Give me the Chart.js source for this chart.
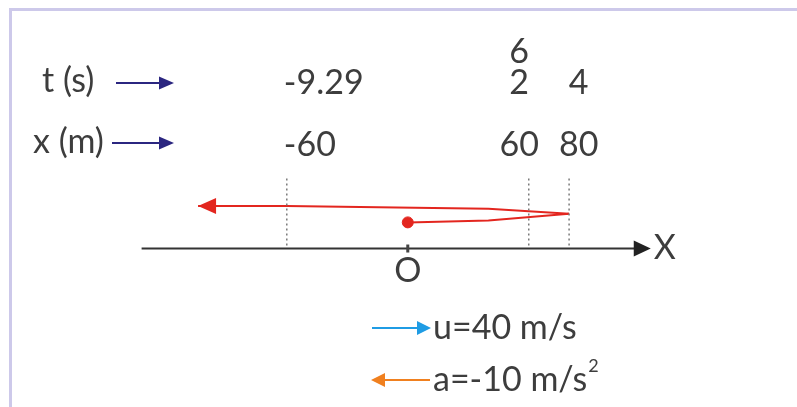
<!DOCTYPE html>
<html>
<head>
<meta charset="utf-8">
<script src="https://cdn.jsdelivr.net/npm/chart.js@4.4.0/dist/chart.umd.min.js"></script>
<style>
  html, body { margin:0; padding:0; background:#fff; overflow:hidden; }
  #wrap { position:relative; width:797px; height:407px; }
  #frame { position:absolute; left:9px; top:8px; width:900px; height:500px;
           border-left:3px solid #cdc9ea; border-top:3px solid #cdc9ea; }
  canvas { position:absolute; left:0; top:0; }
</style>
</head>
<body>
<div id="wrap">
  <div id="frame"></div>
  <canvas id="chart" width="797" height="407"></canvas>
</div>
<script>
// positions marked on the x axis (m) and the times (s) they are reached
const markX = [-60, 60, 80];
const markXLabels = ['-60', '60', '80'];
const markTLabels = [['-9.29'], ['6', '2'], ['4']];

// trajectory: out from O to the turning point, then back to the left
const pathOut  = [{x:0, y:2.7}, {x:40, y:2.9}, {x:80, y:3.6}];
const pathBack = [{x:80, y:3.6}, {x:40, y:4.1}, {x:-60, y:4.4}, {x:-104, y:4.4}];
const startPoint = [{x:0, y:2.7}];

// x axis extent (m) and guide height
const axisExtent = [-132, 120.5];
const guideTop = 7.5;

// vector legend
const vectorLabels = ['u=40 m/s', 'a=-10 m/s'];
const vectorSup = ['', '2'];
const vectorDir = [1, -1];

(function(){
  const RED = '#e3261f', INK = '#3d3d3d', NAVY = '#2b2680';
  const vectorColors = ['#1f9ce4', '#f0801f'];
  const FONT = '34px Lato, "Liberation Sans", sans-serif';

  function arrowHead(ctx, x, y, dir, len, half, color){
    ctx.save();
    ctx.fillStyle = color;
    ctx.beginPath();
    ctx.moveTo(x, y);
    ctx.lineTo(x - dir*len, y - half);
    ctx.lineTo(x - dir*len, y + half);
    ctx.closePath();
    ctx.fill();
    ctx.restore();
  }

  const guides = markX.map(v => ({
    data: [{x:v, y:0.3}, {x:v, y:guideTop}],
    showLine: true, borderColor: '#7a7a7a', borderWidth: 1.5,
    borderDash: [2, 3], pointRadius: 0
  }));

  const datasets = [
    { data: [{x:axisExtent[0], y:0}, {x:axisExtent[1] - 8, y:0}], showLine:true,
      borderColor:'#333', borderWidth:2, pointRadius:0 },
    ...guides,
    { data: pathOut, showLine:true, borderColor:RED, borderWidth:2, pointRadius:0 },
    { data: pathBack, showLine:true, borderColor:RED, borderWidth:2, pointRadius:0 },
    { data: startPoint, pointRadius:5.5, backgroundColor:RED, borderColor:RED }
  ];

  // spread column label centres apart so neighbouring labels keep a gap
  function columnCentres(ctx, xs){
    const cols = markX.map((v, i) => ({
      c: xs.getPixelForValue(v),
      w: Math.max(...[markXLabels[i], ...markTLabels[i]].map(s => ctx.measureText(s).width))
    }));
    const gap = 20;
    for (let i = 1; i < cols.length; i++){
      const a = cols[i-1], b = cols[i];
      const need = (a.w + b.w) / 2 + gap - (b.c - a.c);
      if (need > 0){ a.c -= need / 2; b.c += need / 2; }
    }
    return cols.map(o => o.c);
  }

  const annotate = {
    id: 'annotate',
    afterDatasetsDraw(chart){
      const ctx = chart.ctx;
      const xs = chart.scales.x, ys = chart.scales.y;
      const y0 = ys.getPixelForValue(0);
      ctx.save();
      ctx.font = FONT;
      ctx.fillStyle = INK;
      ctx.textBaseline = 'middle';

      // axis arrow + labels
      const tip = xs.getPixelForValue(axisExtent[1]);
      arrowHead(ctx, tip, y0, 1, 17, 8, '#222');
      ctx.textAlign = 'left';
      ctx.fillText('X', tip + 3, y0);
      ctx.fillStyle = '#444';
      ctx.fillRect(xs.getPixelForValue(0) - 1.5, y0 - 4, 3, 8);
      ctx.fillStyle = INK;
      ctx.textAlign = 'center';
      ctx.fillText('O', xs.getPixelForValue(0), y0 + 23);

      // path arrow head at the end of the return leg
      const last = pathBack[pathBack.length - 1];
      arrowHead(ctx, xs.getPixelForValue(last.x), ys.getPixelForValue(last.y), -1, 18, 8, RED);

      // row headers
      ctx.textAlign = 'left';
      ctx.fillText('t (s)', 42, 81);
      ctx.fillText('x (m)', 33, 142);
      ctx.strokeStyle = NAVY; ctx.lineWidth = 2;
      ctx.beginPath(); ctx.moveTo(116, 83); ctx.lineTo(162, 83); ctx.stroke();
      ctx.beginPath(); ctx.moveTo(112, 143); ctx.lineTo(162, 143); ctx.stroke();
      arrowHead(ctx, 174, 83, 1, 15, 6.5, NAVY);
      arrowHead(ctx, 174, 143, 1, 15, 6.5, NAVY);

      // column labels
      const centres = columnCentres(ctx, xs);
      markX.forEach((v, i) => {
        const px = centres[i];
        const neg = markXLabels[i].startsWith('-');
        ctx.textAlign = neg ? 'left' : 'center';
        const tx = neg ? px - 3 : px;
        ctx.fillText(markXLabels[i], tx, 145);
        const tl = markTLabels[i];
        tl.forEach((s, k) => {
          ctx.fillText(s, tx, 83 - (tl.length - 1 - k) * 31);
        });
      });

      // vector legend
      vectorLabels.forEach((lab, i) => {
        const y = 328 + i * 52;
        const c = vectorColors[i];
        ctx.strokeStyle = c; ctx.lineWidth = 2;
        ctx.beginPath();
        if (vectorDir[i] > 0){ ctx.moveTo(372, y); ctx.lineTo(420, y); }
        else { ctx.moveTo(384, y); ctx.lineTo(430, y); }
        ctx.stroke();
        if (vectorDir[i] > 0) arrowHead(ctx, 431, y, 1, 14, 7, c);
        else arrowHead(ctx, 371, y, -1, 14, 7, c);
        ctx.fillStyle = INK;
        ctx.textAlign = 'left';
        ctx.fillText(lab, 433, y);
        if (vectorSup[i]){
          const w = ctx.measureText(lab).width;
          ctx.font = '18px Lato, "Liberation Sans", sans-serif';
          ctx.fillText(vectorSup[i], 433 + w + 1, y - 14);
          ctx.font = FONT;
        }
      });
      ctx.restore();
    }
  };

  new Chart(document.getElementById('chart').getContext('2d'), {
    type: 'scatter',
    data: { datasets },
    options: {
      responsive: false,
      animation: false,
      layout: { padding: 0 },
      plugins: { legend: { display:false }, tooltip: { enabled:false } },
      scales: {
        x: { type:'linear', display:false, min:-199.0, max:189.8 },
        y: { type:'linear', display:false, min:-15.7, max:25 }
      }
    },
    plugins: [annotate]
  });
})();
</script>
</body>
</html>
